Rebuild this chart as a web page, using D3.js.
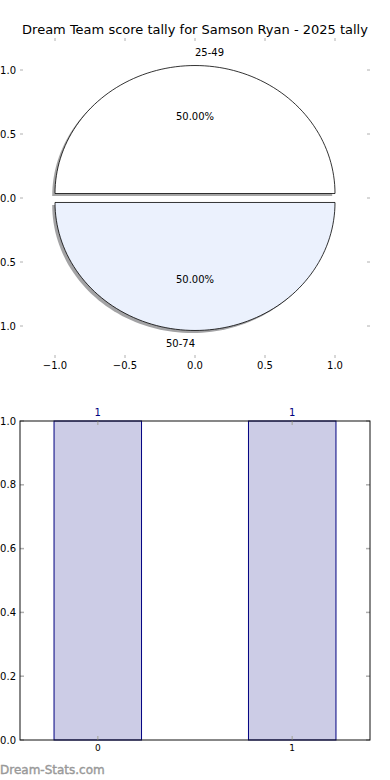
<!DOCTYPE html>
<html>
<head>
<meta charset="utf-8">
<script src="https://cdn.jsdelivr.net/npm/d3@7"></script>
<style>
body { margin: 0; background: #fff; }
text { font-family: "DejaVu Sans", sans-serif; }
</style>
</head>
<body>
<div id="content"></div>
<script>
// data
var titleText = "Dream Team score tally for Samson Ryan - 2025 tally";
var pieLabels = ["25-49", "50-74"];
var pieValues = [1, 1];
var pieTicks = [-1.0, -0.5, 0.0, 0.5, 1.0];
var barCats = [0, 1];
var barValues = [1, 1];
var barYTicks = [0.0, 0.2, 0.4, 0.6, 0.8, 1.0];

var W = 390, H = 780;
var svg = d3.select('#content').append('svg')
    .attr('width', W).attr('height', H);

var tickColor = '#b0b0b0';

svg.append('text')
    .attr('x', 195).attr('y', 34)
    .attr('text-anchor', 'middle')
    .attr('font-size', 13)
    .text(titleText);

// ---------- pie ----------
var px = d3.scaleLinear().domain([-1.25, 1.25]).range([20, 370]);
var py = d3.scaleLinear().domain([-1.25, 1.25]).range([358, 38]);
var pieFill = ['#ffffff', '#ebf1fd'];
var explode = 0.035;

var arcs = d3.pie().sort(null).startAngle(0).endAngle(2 * Math.PI)(pieValues);

function wedgePoints(a, dx, dy){
    var pts = [[dx, dy]];
    var n = 90;
    for(var i = 0; i <= n; i++){
	var t = a.startAngle + (a.endAngle - a.startAngle) * i / n;
	pts.push([Math.cos(t) + dx, Math.sin(t) + dy]);
    }
    return pts;
}
var line = d3.line()
    .x(function(p){ return px(p[0]); })
    .y(function(p){ return py(p[1]); });

var pieG = svg.append('g');
arcs.forEach(function(a, i){
    var mid = (a.startAngle + a.endAngle) / 2;
    var ex = explode * Math.cos(mid), ey = explode * Math.sin(mid);
    a.ex = ex; a.ey = ey; a.mid = mid;
    // shadow
    var c = d3.rgb(pieFill[i]);
    pieG.append('path')
	.attr('d', line(wedgePoints(a, ex - 0.02, ey - 0.02)) + 'Z')
	.attr('fill', d3.rgb(c.r * 0.3, c.g * 0.3, c.b * 0.3))
	.attr('fill-opacity', 0.5);
});
arcs.forEach(function(a, i){
    pieG.append('path')
	.attr('d', line(wedgePoints(a, a.ex, a.ey)) + 'Z')
	.attr('fill', pieFill[i])
	.attr('stroke', '#000')
	.attr('stroke-width', 0.8);
});
arcs.forEach(function(a, i){
    var lx = 1.1 * Math.cos(a.mid) + a.ex, ly = 1.1 * Math.sin(a.mid) + a.ey;
    pieG.append('text')
	.attr('x', px(lx)).attr('y', py(ly))
	.attr('dy', '0.35em')
	.attr('text-anchor', Math.cos(a.mid) > 0 ? 'start' : 'end')
	.attr('font-size', 10)
	.text(pieLabels[i]);
    var qx = 0.6 * Math.cos(a.mid) + a.ex, qy = 0.6 * Math.sin(a.mid) + a.ey;
    var pct = a.value / d3.sum(pieValues) * 100;
    pieG.append('text')
	.attr('x', px(qx)).attr('y', py(qy))
	.attr('dy', '0.35em')
	.attr('text-anchor', 'middle')
	.attr('font-size', 10)
	.text(pct.toFixed(2) + '%');
});

// pie ticks, no spines
var fmt = function(d){ return d3.format('.1f')(d).replace('-', '\u2212'); };
var pt = svg.append('g').attr('stroke', tickColor).attr('stroke-width', 1);
pieTicks.forEach(function(v){
    pt.append('line').attr('x1', px(v)).attr('x2', px(v)).attr('y1', 38).attr('y2', 41);
    pt.append('line').attr('x1', px(v)).attr('x2', px(v)).attr('y1', 358).attr('y2', 355);
    pt.append('line').attr('y1', py(v)).attr('y2', py(v)).attr('x1', 20).attr('x2', 23);
    pt.append('line').attr('y1', py(v)).attr('y2', py(v)).attr('x1', 370).attr('x2', 367);
});
svg.append('g').selectAll('text').data(pieTicks).enter().append('text')
    .attr('x', function(d){ return px(d); }).attr('y', 369)
    .attr('text-anchor', 'middle').attr('font-size', 10)
    .text(fmt);
svg.append('g').selectAll('text').data(pieTicks).enter().append('text')
    .attr('x', 16).attr('y', function(d){ return py(d); })
    .attr('dy', '0.35em')
    .attr('text-anchor', 'end').attr('font-size', 10)
    .text(fmt);

// ---------- bars ----------
var bx = d3.scaleLinear().domain([-0.4, 1.4]).range([20, 370]);
var by = d3.scaleLinear().domain([0, 1]).range([740, 421]);
var barW = 0.45;

svg.append('g').selectAll('rect').data(barValues).enter().append('rect')
    .attr('x', function(d, i){ return bx(barCats[i] - barW / 2); })
    .attr('width', function(){ return bx(barW) - bx(0); })
    .attr('y', function(d){ return by(d); })
    .attr('height', function(d){ return by(0) - by(d); })
    .attr('fill', '#ccccE6')
    .attr('stroke', '#000080')
    .attr('stroke-width', 1);

var bt = svg.append('g').attr('stroke', tickColor).attr('stroke-width', 1.5);
barCats.forEach(function(c){
    bt.append('line').attr('x1', bx(c)).attr('x2', bx(c)).attr('y1', 740).attr('y2', 736);
    bt.append('line').attr('x1', bx(c)).attr('x2', bx(c)).attr('y1', 421).attr('y2', 425);
});
barYTicks.forEach(function(v){
    bt.append('line').attr('y1', by(v)).attr('y2', by(v)).attr('x1', 20).attr('x2', 24);
    bt.append('line').attr('y1', by(v)).attr('y2', by(v)).attr('x1', 370).attr('x2', 366);
});

svg.append('rect')
    .attr('x', 20).attr('y', 421).attr('width', 350).attr('height', 319)
    .attr('fill', 'none').attr('stroke', '#111').attr('stroke-width', 1);

svg.append('g').selectAll('text').data(barYTicks).enter().append('text')
    .attr('x', 16).attr('y', function(d){ return by(d); })
    .attr('dy', '0.35em').attr('text-anchor', 'end').attr('font-size', 10)
    .text(function(d){ return d3.format('.1f')(d); });
svg.append('g').selectAll('text').data(barCats).enter().append('text')
    .attr('x', function(d){ return bx(d); }).attr('y', 751)
    .attr('text-anchor', 'middle').attr('font-size', 9)
    .text(function(d){ return d; });
svg.append('g').selectAll('text').data(barValues).enter().append('text')
    .attr('x', function(d, i){ return bx(barCats[i]); })
    .attr('y', function(d){ return by(d) - 5; })
    .attr('text-anchor', 'middle').attr('font-size', 10)
    .attr('fill', '#000080')
    .text(function(d){ return d; });

svg.append('text')
    .attr('x', 0).attr('y', 774)
    .attr('font-size', 12)
    .attr('fill', '#999')
    .attr('stroke', '#999').attr('stroke-width', 0.4)
    .text('Dream-Stats.com');
</script>
</body>
</html>
